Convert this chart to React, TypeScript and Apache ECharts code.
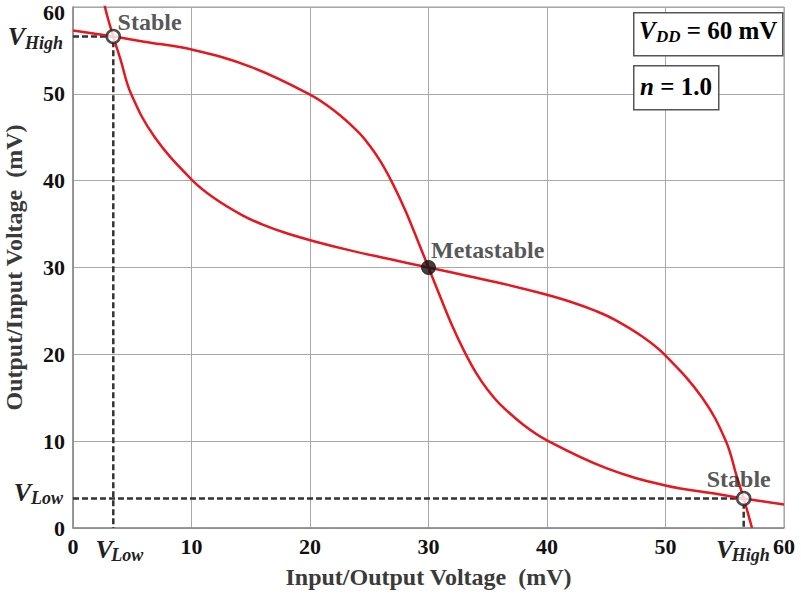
import React, { useEffect, useRef } from "react";
import * as echarts from "echarts";

const FONT = "'Liberation Serif', 'Times New Roman', serif";

const V_LOW = 3.4;
const V_HIGH = 56.6;
const META = 30;

// Inverter 1 transfer curve: output (y) versus input (x)
const curveA: number[][] = [
  [0, 57.3], [3.4, 56.6], [6, 56.0], [10, 55.1], [15, 53.1], [20, 49.9],
  [22, 48.1], [24, 45.7], [25, 44.1], [26, 42.1], [27, 39.6], [28, 36.7],
  [29, 33.4], [30, 30], [31, 26.6], [32, 23.3], [33, 20.4], [34, 17.9],
  [35, 15.9], [36, 14.3], [38, 11.9], [40, 10.1], [45, 6.9], [50, 4.9],
  [54, 4.0], [56.6, 3.4], [60, 2.7],
];

// Inverter 2 transfer curve (mirrored): output on x, input on y
const curveB: number[][] = [
  [57.3, 0], [56.6, 3.4], [56.0, 6], [55.1, 10], [53.1, 15], [49.9, 20],
  [48.1, 22], [45.7, 24], [44.1, 25], [42.1, 26], [39.6, 27], [36.7, 28],
  [33.4, 29], [30, 30], [26.6, 31], [23.3, 32], [20.4, 33], [17.9, 34],
  [15.9, 35], [14.3, 36], [11.9, 38], [10.1, 40], [6.9, 45], [4.9, 50],
  [4.0, 54], [3.4, 56.6], [2.7, 60], [2.5, 62],
];

const guideHigh: number[][] = [[0, V_HIGH], [V_LOW, V_HIGH], [V_LOW, 0]];
const guideLow: number[][] = [[0, V_LOW], [V_HIGH, V_LOW], [V_HIGH, 0]];

const stablePoints: number[][] = [[V_LOW, V_HIGH], [V_HIGH, V_LOW]];
const metaPoint: number[][] = [[META, META]];

const RED = "#e8161d";
const GRID_GRAY = "#a8a8a8";

const vStyle = {
  fontFamily: FONT,
  fontStyle: "italic",
  fontWeight: "bold",
  fontSize: 26,
  lineHeight: 26,
  color: "#222",
  verticalAlign: "top",
  width: 14,
};
const sStyle = {
  fontFamily: FONT,
  fontStyle: "italic",
  fontWeight: "bold",
  fontSize: 18,
  lineHeight: 18,
  color: "#222",
  verticalAlign: "top",
  padding: [10, 0, 0, 0],
};

const subRich = {
  v: vStyle,
  vx: { ...vStyle, padding: [0, 0, 0, 14] },
  s: sStyle,
  e: { fontSize: 1, lineHeight: 12, color: "rgba(0,0,0,0)" },
};

const tickFont = {
  fontFamily: FONT,
  fontWeight: "bold",
  fontSize: 22,
  color: "#111",
};

export default function App() {
  const ref = useRef<HTMLDivElement>(null);

  useEffect(() => {
    if (!ref.current) return;
    const chart = echarts.init(ref.current, undefined, { renderer: "svg" });

    const xSubFormatter = (v: number) =>
      v < 30 ? "{vx|V}{s|Low}" : "{v|V}{s|High}";
    const ySubFormatter = (v: number) =>
      v < 30 ? "{v|V}{s|Low}\n{e| }" : "{v|V}{s|High}";

    const option: any = {
      animation: false,
      backgroundColor: "#ffffff",
      grid: {
        left: 73,
        right: 17,
        top: 7,
        bottom: 68,
        show: true,
        containLabel: false,
        outerBoundsMode: "none",
        borderColor: "#999",
        borderWidth: 1,
      },
      xAxis: [
        {
          type: "value",
          min: 0,
          max: 60,
          interval: 10,
          name: "Input/Output Voltage  (mV)",
          nameLocation: "middle",
          nameGap: 37,
          nameTextStyle: {
            fontFamily: FONT,
            fontWeight: "bold",
            fontSize: 24,
            color: "#3a3a3a",
          },
          axisLine: { show: true, lineStyle: { color: "#888", width: 1.5 } },
          axisTick: { show: false },
          splitLine: { show: true, lineStyle: { color: GRID_GRAY, width: 1 } },
          axisLabel: { ...tickFont, margin: 7 },
        },
        {
          type: "value",
          min: 0,
          max: 60,
          interval: 10,
          position: "bottom",
          axisLine: { show: false },
          axisTick: { show: false },
          splitLine: { show: false },
          axisLabel: {
            customValues: [V_LOW, V_HIGH],
            margin: 8,
            formatter: xSubFormatter,
            rich: subRich,
          },
        },
      ],
      yAxis: [
        {
          type: "value",
          min: 0,
          max: 60,
          interval: 10,
          name: "Output/Input Voltage  (mV)",
          nameLocation: "middle",
          nameGap: 47,
          nameRotate: 90,
          nameTextStyle: {
            fontFamily: FONT,
            fontWeight: "bold",
            fontSize: 24,
            color: "#3a3a3a",
          },
          axisLine: { show: true, lineStyle: { color: "#888", width: 1.5 } },
          axisTick: { show: false },
          splitLine: { show: true, lineStyle: { color: GRID_GRAY, width: 1 } },
          axisLabel: {
            ...tickFont,
            margin: 8,
            formatter: (v: number) => (v === 60 ? "{t|60}" : String(v)),
            rich: {
              t: { ...tickFont, padding: [10, 0, 0, 0] },
            },
          },
        },
        {
          type: "value",
          min: 0,
          max: 60,
          interval: 10,
          position: "left",
          axisLine: { show: false },
          axisTick: { show: false },
          splitLine: { show: false },
          axisLabel: {
            customValues: [V_LOW, V_HIGH],
            margin: 10,
            formatter: ySubFormatter,
            rich: subRich,
          },
        },
      ],
      series: [
        {
          type: "line",
          data: guideHigh,
          symbol: "none",
          lineStyle: { color: "#333", width: 2.5, type: [6, 3] },
          z: 2,
        },
        {
          type: "line",
          data: guideLow,
          symbol: "none",
          lineStyle: { color: "#333", width: 2.5, type: [6, 3] },
          z: 2,
        },
        {
          type: "line",
          data: curveA,
          symbol: "none",
          smooth: 0.4,
          lineStyle: { color: RED, width: 2.5 },
          z: 3,
        },
        {
          type: "line",
          data: curveB,
          symbol: "none",
          smooth: 0.4,
          lineStyle: { color: RED, width: 2.5 },
          z: 3,
        },
        {
          type: "scatter",
          data: [
            {
              value: stablePoints[0],
              label: { show: true, position: [12, -19] },
            },
            {
              value: stablePoints[1],
              label: { show: true, position: "top", distance: 0, offset: [-5, 0] },
            },
          ],
          symbol: "circle",
          symbolSize: 13,
          itemStyle: { color: "#fff", borderColor: "#222", borderWidth: 2.5 },
          label: {
            formatter: "Stable",
            fontFamily: FONT,
            fontWeight: "bold",
            fontSize: 24,
            color: "#2a2a2a",
          },
          z: 5,
        },
        {
          type: "scatter",
          data: metaPoint,
          symbol: "circle",
          symbolSize: 14,
          itemStyle: { color: "#111", borderColor: "#111", borderWidth: 1 },
          label: {
            show: true,
            formatter: "Metastable",
            position: [10, -22],
            fontFamily: FONT,
            fontWeight: "bold",
            fontSize: 24,
            color: "#2a2a2a",
          },
          z: 5,
        },
      ],
      graphic: [
        {
          type: "rect",
          left: 633,
          top: 12,
          shape: { width: 149, height: 43 },
          style: { fill: "#fff", stroke: "#555", lineWidth: 1.5 },
          z: 10,
        },
        {
          type: "text",
          left: 639,
          top: 18,
          style: {
            text: "{v|V}{s|DD}{t| = 60 mV}",
            rich: {
              v: { ...vStyle, fontSize: 25, lineHeight: 25, width: 17 },
              s: { ...sStyle, fontSize: 17, lineHeight: 17, padding: [10, 0, 0, 0] },
              t: {
                fontFamily: FONT,
                fontWeight: "bold",
                fontSize: 25,
                lineHeight: 25,
                color: "#222",
                verticalAlign: "top",
              },
            },
          },
          z: 11,
        },
        {
          type: "rect",
          left: 633,
          top: 65,
          shape: { width: 85, height: 44 },
          style: { fill: "#fff", stroke: "#555", lineWidth: 1.5 },
          z: 10,
        },
        {
          type: "text",
          left: 640,
          top: 74,
          style: {
            text: "{n|n}{t| = 1.0}",
            rich: {
              n: {
                fontFamily: FONT,
                fontStyle: "italic",
                fontWeight: "bold",
                fontSize: 25,
                color: "#222",
              },
              t: {
                fontFamily: FONT,
                fontWeight: "bold",
                fontSize: 25,
                color: "#222",
              },
            },
          },
          z: 11,
        },
      ],
    };

    chart.setOption(option);
    return () => chart.dispose();
  }, []);

  return (
    <div
      ref={ref}
      style={{ position: "absolute", left: 0, top: 0, width: 801, height: 596 }}
    />
  );
}
